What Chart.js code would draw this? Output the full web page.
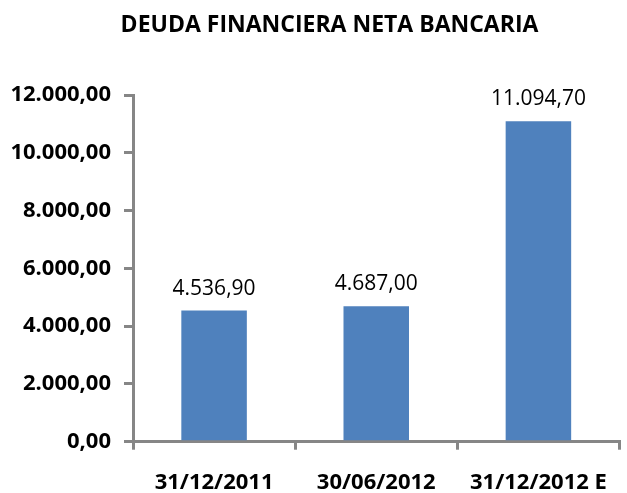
<!DOCTYPE html>
<html>
<head>
<meta charset="utf-8">
<script src="https://cdn.jsdelivr.net/npm/chart.js@4/dist/chart.umd.min.js"></script>
<style>
  html, body { margin: 0; padding: 0; background: #fff; }
  #wrap { width: 627px; height: 493px; }
</style>
</head>
<body>
<div id="wrap"><canvas id="myChart"></canvas></div>
<script>
const fechas = ['31/12/2011', '30/06/2012', '31/12/2012 E']
const deuda = [4536.9, 4687.0, 11094.7]
const ticksY = [0, 2000, 4000, 6000, 8000, 10000, 12000]

// formato 12.000,00
function fmt(v) {
  const partes = v.toFixed(2).split('.')
  const entero = partes[0].replace(/\B(?=(\d{3})+(?!\d))/g, '.')
  return entero + ',' + partes[1]
}

const etiquetas = {
  id: 'etiquetas',
  afterLayout(chart) {
    // el titulo va algo a la derecha del centro
    if (chart.titleBlock) chart.titleBlock.left = 33
  },
  afterDatasetsDraw(chart) {
    const c = chart.ctx
    const meta = chart.getDatasetMeta(0)
    c.save()
    c.font = '21px "Open Sans"'
    c.fillStyle = '#000'
    c.textAlign = 'center'
    c.textBaseline = 'alphabetic'
    meta.data.forEach(function (bar, i) {
      c.fillText(fmt(deuda[i]), bar.x, bar.y - 16)
    })
    c.restore()
  },
}

const ctx = document.getElementById('myChart').getContext('2d')
const myChart = new Chart(ctx, {
  type: 'bar',
  data: {
    labels: fechas,
    datasets: [
      {
        data: deuda,
        backgroundColor: '#4F81BD',
        borderWidth: 0,
        categoryPercentage: 1,
        barPercentage: 0.404,
      },
    ],
  },
  options: {
    responsive: true,
    maintainAspectRatio: false,
    animation: false,
    layout: { padding: { left: 0, right: 1, top: 0, bottom: 0 } },
    plugins: {
      legend: { display: false },
      tooltip: { enabled: false },
      title: {
        display: true,
        text: 'DEUDA FINANCIERA NETA BANCARIA',
        color: '#000',
        font: { family: 'Open Sans', size: 23, weight: 'bold', lineHeight: 1.2 },
        padding: { top: 12, bottom: 55.4 },
      },
    },
    scales: {
      x: {
        afterFit: function (scale) { scale.height = 51.3 },
        grid: {
          offset: true,
          drawOnChartArea: false,
          color: '#868686',
          lineWidth: 3,
          tickLength: 8,
        },
        border: { color: '#868686', width: 3 },
        ticks: {
          color: '#000',
          padding: 20,
          font: { family: 'Open Sans', size: 22, weight: 'bold' },
        },
      },
      y: {
        min: 0,
        max: 12000,
        afterFit: function (scale) { scale.width = 133 },
        afterBuildTicks: function (scale) {
          scale.ticks = ticksY.map(function (v) { return { value: v } })
        },
        grid: {
          drawOnChartArea: false,
          color: '#868686',
          lineWidth: 3,
          tickLength: 9,
        },
        border: { color: '#868686', width: 3 },
        ticks: {
          color: '#000',
          padding: 13,
          font: { family: 'Open Sans', size: 22, weight: 'bold' },
          callback: function (v) { return fmt(v) },
        },
      },
    },
  },
  plugins: [etiquetas],
})
</script>
</body>
</html>
